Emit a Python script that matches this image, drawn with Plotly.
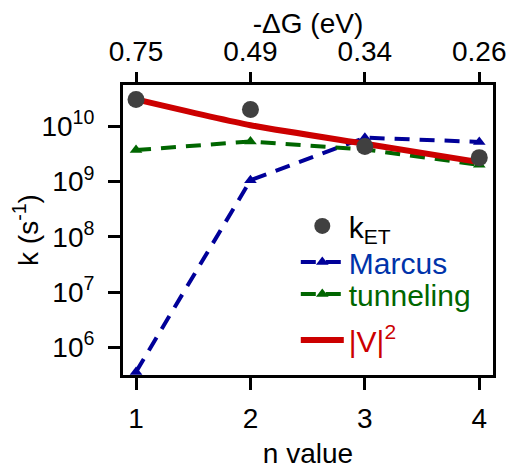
import plotly.graph_objects as go

n_values = [1, 2, 3, 4]
dG_labels = ["0.75", "0.49", "0.34", "0.26"]
k_et = [3.05e10, 2.0e10, 4.3e9, 2.7e9]
k_marcus = [3.6e5, 1.05e9, 6.2e9, 5.2e9]
k_tunneling = [3.7e9, 5.3e9, 3.8e9, 2.0e9]
k_v2 = [3.05e10, 1.04e10, 4.8e9, 2.24e9]
y_tickvals = [1e6, 1e7, 1e8, 1e9, 1e10]
y_ticktext = ["10<sup>6</sup>", "10<sup>7</sup>", "10<sup>8</sup>", "10<sup>9</sup>", "10<sup>10</sup>"]

FONT = "Liberation Sans"
BLUE = "#000099"
GREEN = "#006600"
RED = "#cc0000"
GREY = "#404040"
FS = 28
LFS = 30

fig = go.Figure()
fig.add_trace(go.Scatter(
    x=n_values, y=k_marcus, mode="lines+markers",
    name='<span style="color:#0033aa">Marcus</span>', legend="legend2",
    line=dict(color=BLUE, width=4, dash="15px,10px"),
    marker=dict(symbol="triangle-up", size=11, color=BLUE),
    cliponaxis=False))
fig.add_trace(go.Scatter(
    x=n_values, y=k_tunneling, mode="lines+markers",
    name='<span style="color:#006600">tunneling</span>', legend="legend3",
    line=dict(color=GREEN, width=4, dash="15px,10px"),
    marker=dict(symbol="triangle-up", size=11, color=GREEN)))
fig.add_trace(go.Scatter(
    x=n_values, y=k_v2, mode="lines",
    name='<span style="color:#cc0000">|V|<sup>2</sup></span>', legend="legend4",
    line=dict(color=RED, width=6, shape="spline", smoothing=0.6)))
fig.add_trace(go.Scatter(
    x=n_values, y=k_et, mode="markers",
    name="k<sub>ET</sub>", legend="legend",
    marker=dict(symbol="circle", size=17, color=GREY)))
# invisible trace for top axis
fig.add_trace(go.Scatter(
    x=n_values, y=k_et, xaxis="x2", mode="markers",
    marker=dict(opacity=0), showlegend=False, hoverinfo="skip"))

axis_common = dict(linecolor="black", linewidth=3,
                   ticks="outside", ticklen=12, tickwidth=3, tickcolor="black",
                   showgrid=False, zeroline=False, automargin=False,
                   tickfont=dict(family=FONT, size=FS, color="black"))


def leg(y):
    return dict(x=0.467, y=y, xanchor="left", yanchor="middle", itemwidth=43,
                bgcolor="rgba(0,0,0,0)", font=dict(family=FONT, size=LFS, color="black"))


# page body has an 8px margin: figure is offset by (8, 8) in the window
fig.update_layout(
    width=512, height=461,
    margin=dict(l=115, r=27, t=77, b=94),
    paper_bgcolor="white", plot_bgcolor="white",
    font=dict(family=FONT, size=FS, color="black"),
    showlegend=True,
    legend=leg(0.514),
    legend2=leg(0.390),
    legend3=leg(0.279),
    legend4=leg(0.121),
    xaxis=dict(range=[0.886, 4.12], tickvals=n_values, ticktext=[str(v) for v in n_values],
               showline=True, mirror=True, ticklabelstandoff=4,
               title=dict(text="n value", font=dict(family=FONT, size=FS), standoff=11),
               **axis_common),
    xaxis2=dict(range=[0.886, 4.12], tickvals=n_values, ticktext=dG_labels,
                overlaying="x", side="top", showline=False, ticklabelstandoff=0,
                title=dict(text="-ΔG (eV)", font=dict(family=FONT, size=FS), standoff=6),
                **axis_common),
    yaxis=dict(type="log", range=[5.5, 10.745], tickvals=y_tickvals, ticktext=y_ticktext,
               showline=True, mirror=True, ticklabelstandoff=8,
               title=dict(text="k (s<sup>-1</sup>)", font=dict(family=FONT, size=FS), standoff=4),
               **axis_common),
)

fig.write_html("out.html")
